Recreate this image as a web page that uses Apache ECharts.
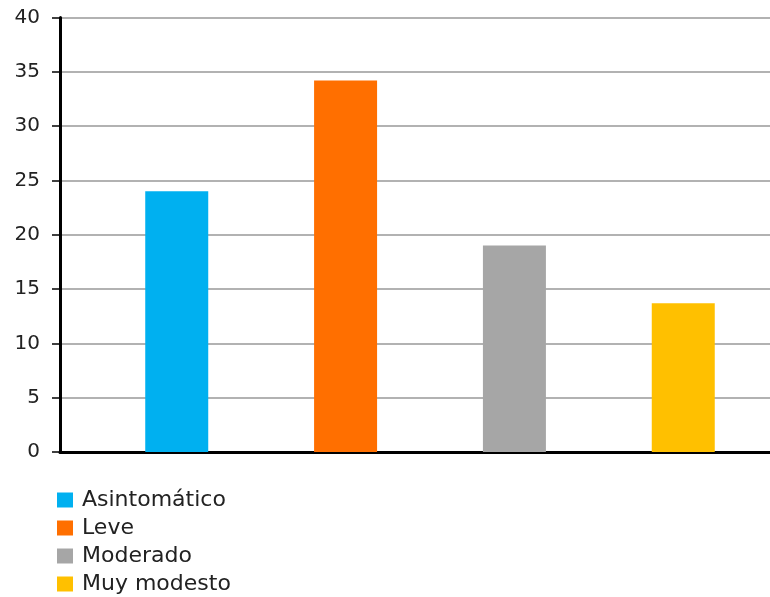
<!DOCTYPE html>
<html>
<head>
<meta charset="utf-8">
<script src="https://cdn.jsdelivr.net/npm/echarts@6/dist/echarts.min.js"></script>
<style>html,body{margin:0;padding:0;background:#fff}#c{width:770px;height:597px}</style>
</head>
<body>
<div id="c"></div>
<script>
const seriesNames = ['Asintomático', 'Leve', 'Moderado', 'Muy modesto'];
const seriesValues = [24, 34.2, 19, 13.7];
const seriesColors = ['#00B0F0', '#FF6F00', '#A6A6A6', '#FFC000'];
const yTicks = { min: 0, max: 40, interval: 5 };

const chart = echarts.init(document.getElementById('c'), null, { renderer: 'canvas' });
const font = '"DejaVu Sans", Verdana, sans-serif';
chart.setOption({
  animation: false,
  backgroundColor: '#fff',
  grid: { left: 60, top: 17.5, bottom: 145, right: -30, containLabel: false, outerBoundsMode: 'none' },
  legend: {
    orient: 'vertical', left: 57, top: 489, padding: 0,
    itemWidth: 16, itemHeight: 15, itemGap: 6,
    icon: 'rect',
    textStyle: { fontFamily: font, fontSize: 22, color: '#222', padding: [0, 0, 0, 4] },
    data: seriesNames
  },
  xAxis: {
    type: 'category', data: [''],
    axisLine: { show: true, lineStyle: { color: '#000', width: 3 } },
    axisTick: { show: false }, axisLabel: { show: false }
  },
  yAxis: {
    type: 'value', min: yTicks.min, max: yTicks.max, interval: yTicks.interval,
    axisLine: { show: true, lineStyle: { color: '#000', width: 3 } },
    axisTick: { show: true, length: 8, lineStyle: { color: '#000', width: 1.5 } },
    axisLabel: { margin: 20, fontFamily: font, fontSize: 20, color: '#222' },
    splitLine: { show: true, lineStyle: { color: '#999', width: 1.5 } }
  },
  series: seriesNames.map((n, i) => ({
    name: n, type: 'bar', data: [seriesValues[i]],
    barWidth: 63, barGap: '168%',
    itemStyle: { color: seriesColors[i] }
  }))
});
</script>
</body>
</html>
